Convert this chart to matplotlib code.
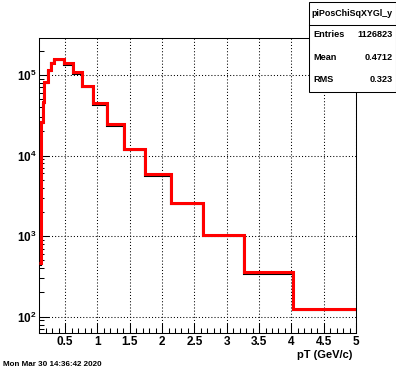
import matplotlib
matplotlib.use("Agg")
import matplotlib.pyplot as plt
from matplotlib.ticker import MultipleLocator, LogLocator, NullFormatter

plt.rcParams["font.family"] = ["Liberation Sans", "DejaVu Sans"]
plt.rcParams["font.weight"] = "bold"
plt.rcParams["mathtext.fontset"] = "custom"
plt.rcParams["mathtext.rm"] = "Liberation Sans:bold"
plt.rcParams["mathtext.bf"] = "Liberation Sans:bold"
plt.rcParams["mathtext.it"] = "Liberation Sans:bold"

# bin edges in pT (GeV/c)
EDGES = [0.100, 0.126, 0.153, 0.177, 0.239, 0.281, 0.332, 0.487, 0.626, 0.756,
         0.936, 1.152, 1.415, 1.735, 2.133, 2.638, 3.272, 4.030, 5.000]
# red histogram (drawn on top)
RED_COUNTS = [465, 26300, 45600, 82600, 114000, 142000, 158000, 140000, 110000,
              73600, 45000, 24700, 12200, 5900, 2600, 1025, 361, 123]
# black histogram (mostly hidden under red)
BLACK_COUNTS = [440, 25500, 44000, 80000, 111000, 139000, 155000, 133000, 104000,
                71000, 43000, 23600, 11700, 5650, 2520, 990, 338, 122]

XTICKS = [0.5, 1, 1.5, 2, 2.5, 3, 3.5, 4, 4.5, 5]
XTICK_LABELS = ["0.5", "1", "1.5", "2", "2.5", "3", "3.5", "4", "4.5", "5"]
YTICKS = [1e2, 1e3, 1e4, 1e5]
YTICK_LABELS = [r"$10^{2}$", r"$10^{3}$", r"$10^{4}$", r"$10^{5}$"]

STATS_TITLE = "piPosChiSqXYGl_y"
STATS_ROWS = [("Entries", "1126823"), ("Mean", "0.4712"), ("RMS", "0.323")]
DATE = "Mon Mar 30 14:36:42 2020"
XLABEL = "pT (GeV/c)"

W, H = 396, 372
fig = plt.figure(figsize=(W / 100, H / 100), dpi=100)
ax = fig.add_axes([39.3 / W, 1 - 332.5 / H, (356 - 39.3) / W, (332.5 - 37.5) / H])

ax.stairs(BLACK_COUNTS, EDGES, baseline=None, color="black", lw=1.5,
          joinstyle="miter", zorder=3)
ax.stairs(RED_COUNTS, EDGES, baseline=None, color="#ff0000", lw=2.2,
          joinstyle="miter", zorder=4)

ax.set_yscale("log")
ax.set_xlim(0.1, 5.0)
ax.set_ylim(63.7, 2.92e5)

ax.set_xticks(XTICKS)
ax.set_xticklabels(XTICK_LABELS)
ax.xaxis.set_minor_locator(MultipleLocator(0.1))
ax.set_yticks(YTICKS)
ax.set_yticklabels(YTICK_LABELS)
ax.yaxis.set_minor_locator(LogLocator(base=10, subs=range(2, 10)))
ax.yaxis.set_minor_formatter(NullFormatter())

ax.tick_params(which="major", direction="in", length=7, width=0.75,
               labelsize=8.5, top=False, right=False)
ax.tick_params(which="minor", direction="in", length=3.6, width=0.75,
               top=False, right=False)
ax.tick_params(axis="x", pad=2.5)
ax.tick_params(axis="y", pad=2)

for s in ax.spines.values():
    s.set_linewidth(0.75)

ax.grid(True, which="major", color="black", linestyle=(0, (1, 2)), lw=0.75)
ax.set_axisbelow(True)

ax.set_xlabel(XLABEL, fontsize=8, fontweight="bold")
ax.xaxis.label.set_ha("right")
ax.xaxis.label.set_va("center")
ax.xaxis.set_label_coords(1 - 4 / 316.7, -(355 - 332.5) / 295)

# stats box
bx0, bx1 = 309.3 / W, 395.5 / W
by0, by1 = 1 - 91.7 / H, 1 - 1.5 / H
fig.patches.append(plt.Rectangle((bx0, by0), bx1 - bx0, by1 - by0,
                                 transform=fig.transFigure, facecolor="white",
                                 edgecolor="black", lw=0.75, zorder=10))
fig.lines.append(plt.Line2D([bx0, bx1], [1 - 25 / H] * 2, transform=fig.transFigure,
                            color="black", lw=0.75, zorder=11))
fig.text((bx0 + bx1) / 2, 1 - 14 / H, STATS_TITLE, ha="center", va="center",
         fontsize=6.4, fontweight="bold", zorder=12)
for (name, val), yp in zip(STATS_ROWS, [34.3, 57.7, 80]):
    fig.text(313.3 / W, 1 - yp / H, name, ha="left", va="center",
             fontsize=6.6, fontweight="bold", zorder=12)
    fig.text(392.7 / W, 1 - yp / H, val, ha="right", va="center",
             fontsize=6.6, fontweight="bold", zorder=12)

fig.text(2.7 / W, 1 - 364 / H, DATE, ha="left", va="center", fontsize=5.8,
         fontweight="bold")

fig.savefig("out.png", dpi=100)
